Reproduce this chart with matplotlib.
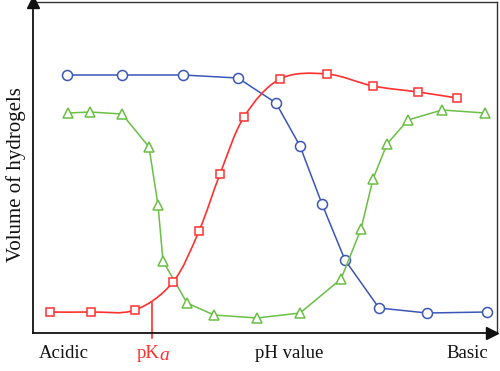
import numpy as np
import matplotlib
matplotlib.use("Agg")
import matplotlib.pyplot as plt
from matplotlib.path import Path
from matplotlib.patches import PathPatch

# Values in arbitrary units (x: position along pH axis, y: volume)
blue_x = [34, 89, 150, 205, 243, 267, 289, 312, 346, 394, 454]
blue_y = [258, 258, 258, 255, 230, 187, 129, 73, 25, 20, 21]

red_x = [17, 58, 102, 140, 166, 187, 211, 247, 294, 340, 385, 424]
red_y = [21, 21, 23, 51, 102, 159, 216, 254, 259, 247, 241, 235]

green_x = [35, 57, 89, 116, 125, 130, 154, 181, 224, 267, 308, 328, 340, 354, 375, 409, 452]
green_y = [220, 221, 219, 186, 128, 72, 30, 18, 15, 20, 54, 104, 154, 189, 213, 223, 220]

pka_x = 119
pka_curve_y = 30

labels = ["Acidic", "pK", "a", "pH value", "Basic"]

BLUE = "#3a56b8"
RED = "#ff3030"
GREEN = "#6abf45"
SERIF = ["Liberation Serif", "DejaVu Serif"]

fig = plt.figure(figsize=(5.0, 3.71), dpi=100)
ax = fig.add_axes([33 / 500, 38 / 371, 464 / 500, 331 / 371])
ax.set_xlim(0, 464)
ax.set_ylim(0, 331)


def smooth_path(xs, ys, t=1 / 6):
    pts = np.column_stack([xs, ys]).astype(float)
    verts = [pts[0]]
    codes = [Path.MOVETO]
    n = len(pts)
    for i in range(n - 1):
        p0 = pts[max(i - 1, 0)]
        p1 = pts[i]
        p2 = pts[i + 1]
        p3 = pts[min(i + 2, n - 1)]
        c1 = p1 + (p2 - p0) * t
        c2 = p2 - (p3 - p1) * t
        verts += [c1, c2, p2]
        codes += [Path.CURVE4] * 3
    return Path(verts, codes)


ax.plot(blue_x, blue_y, color=BLUE, lw=1.1, marker="o", ms=7.2,
        mfc="white", mec=BLUE, mew=1.1, zorder=3)
ax.add_patch(PathPatch(smooth_path(red_x, red_y), fill=False,
                       edgecolor=RED, lw=1.2, zorder=3))
ax.plot(red_x, red_y, ls="none", marker="s", ms=6.2,
        mfc="white", mec=RED, mew=1.1, zorder=4)
ax.plot(green_x, green_y, color=GREEN, lw=1.1, marker="^", ms=7.5,
        mfc="white", mec=GREEN, mew=1.1, zorder=3)

# pKa marker line
ax.plot([pka_x, pka_x], [pka_curve_y, -5], color=RED, lw=1.2,
        clip_on=False, zorder=2)

# spines
for s in ["left", "bottom"]:
    ax.spines[s].set_linewidth(1.3)
    ax.spines[s].set_color("#111111")
for s in ["top", "right"]:
    ax.spines[s].set_linewidth(1.0)
    ax.spines[s].set_color("#333333")
ax.set_xticks([])
ax.set_yticks([])

# arrows
ax.plot(0, 1, marker="^", ms=8, color="#111111", transform=ax.transAxes,
        clip_on=False, zorder=5)
ax.plot(1 - 5 / 464, 0, marker=">", ms=8, color="#111111",
        transform=ax.transAxes, clip_on=False, zorder=5)

# labels
ty = -20
ax.text(6, ty, labels[0], ha="left", va="center", fontsize=13.5,
        family=SERIF, color="#111111", clip_on=False)
ax.text(pka_x + 8, ty, labels[1], ha="right", va="center", fontsize=13.5,
        family=SERIF, color=RED, clip_on=False)
ax.text(pka_x + 7, ty - 3, labels[2], ha="left", va="center", fontsize=14,
        family=SERIF, style="italic", color=RED, clip_on=False)
ax.text(256, ty, labels[3], ha="center", va="center", fontsize=13.5,
        family=SERIF, color="#111111", clip_on=False)
ax.text(455, ty, labels[4], ha="right", va="center", fontsize=13.5,
        family=SERIF, color="#111111", clip_on=False)

fig.text(16 / 500, 1 - 175 / 371, "Volume of hydrogels", rotation=90,
         ha="center", va="center", fontsize=15, family=SERIF, color="#111111")

fig.savefig("out.png", dpi=100)
